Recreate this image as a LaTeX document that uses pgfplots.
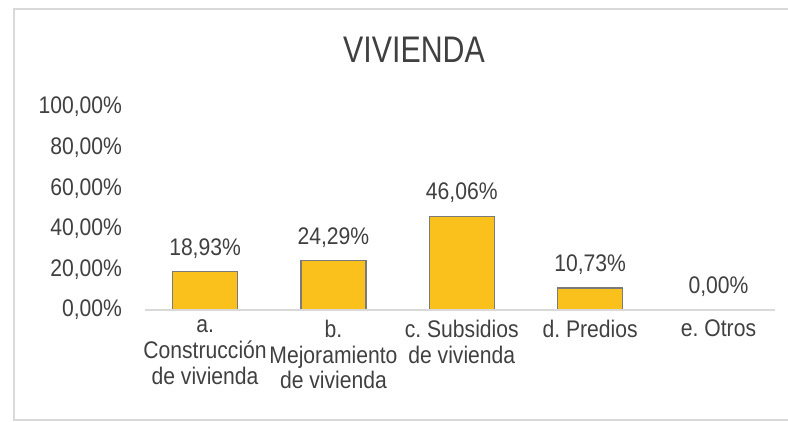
\documentclass[border=0pt]{standalone}
\usepackage{fontspec}
\setmainfont{Liberation Sans}[FakeStretch=0.88]
\newfontfamily\titlefont{Liberation Sans}[FakeStretch=0.82]
\usepackage{pgfplots}
\pgfplotsset{compat=1.18}
\definecolor{barfill}{HTML}{FAC11C}
\definecolor{baredge}{HTML}{7A7A7A}
\definecolor{txt}{HTML}{404040}
\definecolor{framec}{HTML}{D9D9D9}
\frenchspacing

\begin{document}
\begin{tikzpicture}
\useasboundingbox (0pt,0pt) rectangle (394pt,211pt);
\draw[framec, line width=1pt] (396pt,206.5pt) -- (7pt,206.5pt) -- (7pt,1pt) -- (396pt,1pt);
\node[txt, font=\titlefont\fontsize{18.5}{22}\selectfont] at (207pt,186pt) {VIVIENDA};
\begin{axis}[
    at={(72.5pt,56pt)}, anchor=south west,
    scale only axis,
    width=315pt, height=101.5pt,
    xmin=-0.468, xmax=4.44,
    ymin=0, ymax=100,
    clip=false,
    axis line style={draw=none},
    major tick length=0pt,
    ytick={0,20,40,60,80,100},
    yticklabels={{0,00\%},{20,00\%},{40,00\%},{60,00\%},{80,00\%},{100,00\%}},
    yticklabel style={font=\fontsize{12}{13}\selectfont, text=txt, anchor=east, xshift=-8pt},
    xtick={0,1,2,3,4},
    xticklabels={{a.\\Construcción\\de vivienda},{b.\\Mejoramiento\\de vivienda},{c. Subsidios\\de vivienda},{d. Predios},{e. Otros}},
    xticklabel style={font=\fontsize{12}{12.8}\selectfont, text=txt, align=center, anchor=north, yshift=-1.5pt},
    ybar,
    bar width=32.5pt,
    nodes near coords,
    point meta=explicit symbolic,
    every node near coord/.append style={font=\fontsize{12}{13}\selectfont, text=txt, yshift=3pt},
]
\addplot[fill=barfill, draw=baredge, line width=0.8pt] coordinates {
  (0,18.93) [18,93\%]
  (1,24.29) [24,29\%]
  (2,46.06) [46,06\%]
  (3,10.73) [10,73\%]
  (4,0) [0,00\%]
};
\draw[framec, line width=1pt] (rel axis cs:0,0) -- (rel axis cs:1,0);
\end{axis}
\end{tikzpicture}
\end{document}
